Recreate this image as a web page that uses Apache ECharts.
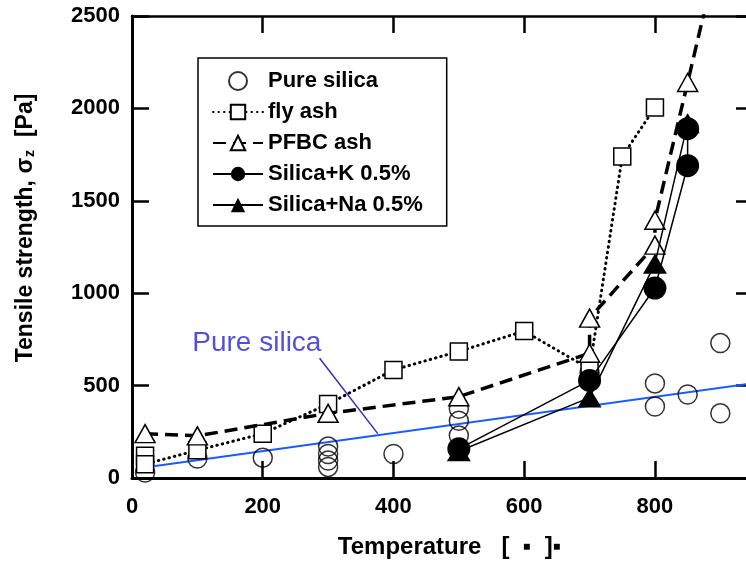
<!DOCTYPE html>
<html>
<head>
<meta charset="utf-8">
<script src="https://cdn.jsdelivr.net/npm/echarts@6/dist/echarts.min.js"></script>
<style>
  html, body { margin: 0; padding: 0; background: #fff; }
  #chart { width: 746px; height: 562px; }
</style>
</head>
<body>
<div id="chart"></div>
<script>
// values
var xTicks = [0, 200, 400, 600, 800];
var xMax = 950;
var yTicks = [0, 500, 1000, 1500, 2000, 2500];

var pureSilica = [[20, 30], [100, 105], [200, 110], [300, 170], [300, 130], [300, 95], [300, 60],
  [400, 130], [500, 375], [500, 310], [500, 230], [700, 570], [800, 512], [800, 387],
  [850, 452], [900, 730], [900, 350]];
var flyAsh = [[20, 120], [20, 75], [100, 150], [200, 240], [300, 400], [400, 585], [500, 685],
  [600, 795], [700, 590], [750, 1740], [800, 2005]];
var pfbcAsh = [[20, 240], [100, 228], [300, 350], [500, 440], [700, 675], [700, 865],
  [800, 1260], [800, 1395], [850, 2140]];
var pfbcTail = [880, 2590];
var silicaK = [[500, 158], [700, 528], [800, 1028], [850, 1690], [850, 1890]];
var silicaNa = [[500, 145], [700, 435], [800, 1160], [850, 1920]];
var silicaFit = [[8, 52], [950, 513]];
var noteLeader = [[287, 648], [376, 240]];
var notePoint = [191, 729];
var noteText = 'Pure silica';

var FONT = '"Liberation Sans", Arial, sans-serif';
var chart = echarts.init(document.getElementById('chart'));

var pfbcData = pfbcAsh.map(function (p) { return p; });
pfbcData.push({ value: pfbcTail, symbol: 'none' });

var tickStep = xTicks[1] - xTicks[0];
var yStep = yTicks[1] - yTicks[0];

function xLabel (v) { return xTicks.indexOf(v) >= 0 ? String(v) : ''; }
function yLabel (v) { return yTicks.indexOf(v) >= 0 ? String(v) : ''; }

var tickStyle = { inside: true, length: 17, lineStyle: { color: '#000', width: 2.5 } };

chart.setOption({
  animation: false,
  backgroundColor: '#fff',
  grid: { left: 132, top: 16, width: 621, height: 462, outerBoundsMode: 'none' },
  legend: {
    data: ['Pure silica', 'fly ash', 'PFBC ash', 'Silica+K 0.5%', 'Silica+Na 0.5%'],
    orient: 'vertical',
    left: 198,
    top: 58,
    padding: [12, 24, 10, 14],
    itemGap: 9,
    itemWidth: 50,
    itemHeight: 18,
    borderColor: '#000',
    borderWidth: 1.5,
    borderRadius: 0,
    backgroundColor: '#fff',
    textStyle: { color: '#000', fontSize: 22, fontWeight: 'bold', fontFamily: FONT },
    selectedMode: false
  },
  xAxis: [{
    type: 'value',
    min: xTicks[0],
    max: xMax,
    interval: tickStep,
    name: 'Temperature   [  \u25AA  ]\u25AA',
    nameLocation: 'middle',
    nameGap: 57,
    nameTextStyle: { color: '#000', fontSize: 24, fontWeight: 'bold', fontFamily: FONT, padding: [0, 0, 0, 14] },
    axisLine: { onZero: false, lineStyle: { color: '#000', width: 3 } },
    axisTick: tickStyle,
    axisLabel: { color: '#000', fontSize: 22, fontWeight: 'bold', fontFamily: FONT, margin: 18, formatter: xLabel, showMaxLabel: false },
    splitLine: { show: false }
  }, {
    type: 'value',
    position: 'top',
    min: xTicks[0],
    max: xMax,
    interval: tickStep,
    axisLine: { onZero: false, lineStyle: { color: '#000', width: 2.5 } },
    axisTick: tickStyle,
    axisLabel: { show: false },
    splitLine: { show: false }
  }],
  yAxis: [{
    type: 'value',
    min: yTicks[0],
    max: yTicks[yTicks.length - 1],
    interval: yStep,
    name: 'Tensile strength, \u03C3{s|z}  [Pa]',
    nameLocation: 'middle',
    nameGap: 95,
    nameTextStyle: {
      color: '#000', fontSize: 23, fontWeight: 'bold', fontFamily: FONT, padding: [0, 0, 0, 38],
      rich: { s: { fontSize: 14, fontWeight: 'bold', fontFamily: FONT, color: '#000', verticalAlign: 'bottom', padding: [8, 0, 0, 1] } }
    },
    axisLine: { onZero: false, lineStyle: { color: '#000', width: 3 } },
    axisTick: tickStyle,
    axisLabel: { color: '#000', fontSize: 22, fontWeight: 'bold', fontFamily: FONT, margin: 12, formatter: yLabel },
    splitLine: { show: false }
  }, {
    type: 'value',
    position: 'right',
    min: yTicks[0],
    max: yTicks[yTicks.length - 1],
    interval: yStep,
    axisLine: { onZero: false, lineStyle: { color: '#000', width: 2.5 } },
    axisTick: tickStyle,
    axisLabel: { show: false },
    splitLine: { show: false }
  }],
  series: [
    {
      name: 'fit',
      type: 'line',
      data: silicaFit,
      symbol: 'none',
      lineStyle: { color: '#1a5cff', width: 2 },
      z: 1
    },
    {
      name: 'Pure silica',
      type: 'scatter',
      data: pureSilica,
      symbol: 'circle',
      symbolSize: 19,
      itemStyle: { color: 'rgba(255,255,255,0)', borderColor: '#000', borderWidth: 1.5 },
      z: 2
    },
    {
      name: 'fly ash',
      type: 'line',
      data: flyAsh,
      symbol: 'rect',
      symbolSize: 17,
      itemStyle: { color: '#fff', borderColor: '#000', borderWidth: 1.5 },
      lineStyle: { color: '#000', width: 3, type: [0.5, 5], cap: 'round' },
      z: 3
    },
    {
      name: 'PFBC ash',
      type: 'line',
      data: pfbcData,
      symbol: 'triangle',
      symbolSize: [20, 18],
      itemStyle: { color: '#fff', borderColor: '#000', borderWidth: 1.5 },
      lineStyle: { color: '#000', width: 3.5, type: [13, 7] },
      z: 4
    },
    {
      name: 'Silica+K 0.5%',
      type: 'line',
      data: silicaK,
      symbol: 'circle',
      symbolSize: 23,
      itemStyle: { color: '#000' },
      lineStyle: { color: '#000', width: 1.5 },
      z: 5
    },
    {
      name: 'Silica+Na 0.5%',
      type: 'line',
      data: silicaNa,
      symbol: 'triangle',
      symbolSize: [24, 20],
      itemStyle: { color: '#000' },
      lineStyle: { color: '#000', width: 1.5 },
      z: 5
    },
    {
      name: 'note',
      type: 'line',
      data: noteLeader,
      symbol: 'none',
      lineStyle: { color: '#3030c0', width: 1.5 },
      z: 6
    },
    {
      name: 'noteLabel',
      type: 'scatter',
      data: [notePoint],
      symbolSize: 0,
      label: {
        show: true,
        position: 'inside',
        formatter: noteText,
        color: '#2525cc',
        fontSize: 28,
        fontFamily: FONT
      },
      z: 6
    }
  ]
});
</script>
</body>
</html>
